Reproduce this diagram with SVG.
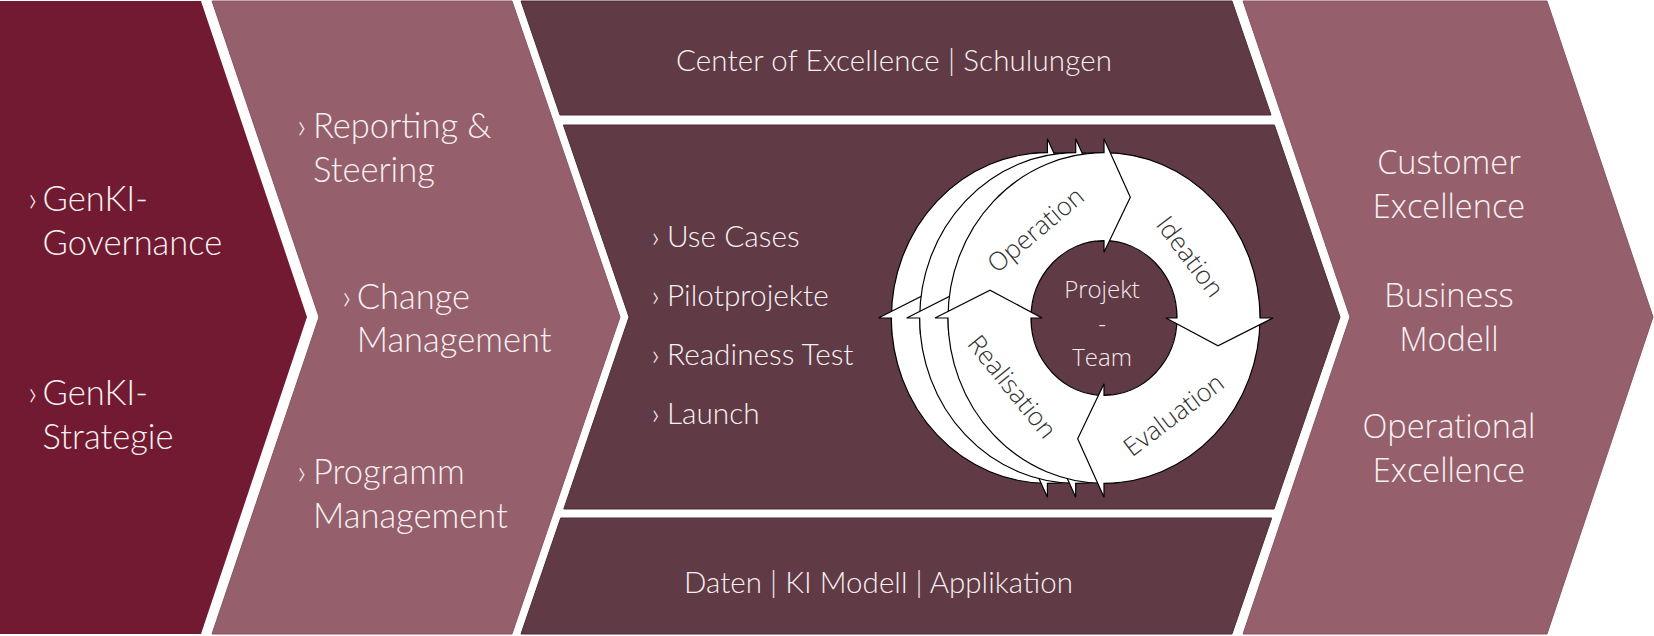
<svg xmlns="http://www.w3.org/2000/svg" xmlns:xlink="http://www.w3.org/1999/xlink" width="1654" height="636" viewBox="0 0 1654 636">
<style>
.c1{fill:#711a31}
.c2{fill:#955f6c;stroke:#8a5360;stroke-width:1}
.band{fill:#603a45;stroke:#4e2c36;stroke-width:1}
.tl{font-family:Lato,"Liberation Sans",sans-serif;font-weight:300;fill:#f7f1f2}
.tr{font-family:"Open Sans","Liberation Sans",sans-serif;font-weight:300;fill:#f7f1f2;font-size:32.5px;text-anchor:middle}
.ring{fill:#ffffff;stroke:#000000;stroke-width:1.2;fill-rule:evenodd}
.rt{font-family:"Open Sans","Liberation Sans",sans-serif;font-weight:300;fill:#333333;font-size:25.5px;text-anchor:middle;dominant-baseline:central}
.hub{font-family:"Open Sans","Liberation Sans",sans-serif;font-weight:300;fill:#f3eaec;font-size:24px;text-anchor:middle}
</style>
<defs>
<path id="ah" d="M -16.31 -155.15 A 156 156 0 0 1 0 -156 L 0 -169 L 26.32 -114 L 0 -62 L 0 -73 A 73 73 0 0 0 -7.63 -72.6" fill="#ffffff" stroke="#000000" stroke-width="1.2" vector-effect="non-scaling-stroke" stroke-linejoin="miter"/>
<g id="cyc">
<path class="ring" vector-effect="non-scaling-stroke" d="M 0 -156 A 156 156 0 1 1 0 156 A 156 156 0 1 1 0 -156 Z M 0 -73 A 73 73 0 1 0 0 73 A 73 73 0 1 0 0 -73 Z"/>
<use xlink:href="#ah"/>
<use xlink:href="#ah" transform="rotate(90)"/>
<use xlink:href="#ah" transform="rotate(180)"/>
<use xlink:href="#ah" transform="rotate(270)"/>
</g>
</defs>
<rect width="1654" height="636" fill="#ffffff"/>

<g id="chevron-governance">
<polygon class="c1" points="0,1 201,1 307,317 201,634 0,634"/>
<text class="tl" font-size="34.5"><tspan x="28" y="210.5">›</tspan><tspan x="42.6" y="210.5">GenKI-</tspan></text>
<text class="tl" font-size="34.5" x="42.6" y="255">Governance</text>
<text class="tl" font-size="34.5"><tspan x="28" y="405">›</tspan><tspan x="42.6" y="405">GenKI-</tspan></text>
<text class="tl" font-size="34.5" x="42.6" y="449">Strategie</text>
</g>

<g id="chevron-management">
<polygon class="c2" points="212,1 512,1 620,317 512,634 212,634 319,317"/>
<text class="tl" font-size="34.5"><tspan x="297" y="137.6">›</tspan><tspan x="313" y="137.6">Reporting &amp;</tspan></text>
<text class="tl" font-size="34.5" x="313" y="182">Steering</text>
<text class="tl" font-size="34.5"><tspan x="342" y="309">›</tspan><tspan x="356.7" y="309">Change</tspan></text>
<text class="tl" font-size="34.5" x="356.7" y="352">Management</text>
<text class="tl" font-size="34.5"><tspan x="297" y="484">›</tspan><tspan x="313" y="484">Programm</tspan></text>
<text class="tl" font-size="34.5" x="313" y="528">Management</text>
</g>

<g id="band-coe">
<polygon class="band" points="521,1 1232,1 1271,115 560,115"/>
<text class="tl" font-size="29.5" x="676" y="71" textLength="436" lengthAdjust="spacing">Center of Excellence | Schulungen</text>
</g>

<g id="band-pilot">
<polygon class="band" points="563.4,125 1274.4,125 1340,317 1274,509 563.8,509 629,317"/>
<text class="tl" font-size="29.8"><tspan x="651.5" y="247">›</tspan><tspan x="667" y="247">Use Cases</tspan></text>
<text class="tl" font-size="29.8"><tspan x="651.5" y="306">›</tspan><tspan x="667" y="306">Pilotprojekte</tspan></text>
<text class="tl" font-size="29.8"><tspan x="651.5" y="365">›</tspan><tspan x="667" y="365">Readiness Test</tspan></text>
<text class="tl" font-size="29.8"><tspan x="651.5" y="424">›</tspan><tspan x="667" y="424">Launch</tspan></text>
</g>

<g id="cycle">
<g transform="translate(1104 318) scale(1 1.06)">
<use xlink:href="#cyc" transform="translate(-56.6 0)"/>
<use xlink:href="#cyc" transform="translate(-28.3 0)"/>
<circle r="73" fill="#603a45"/>
<use xlink:href="#cyc"/>
</g>
<text class="rt" transform="translate(1035 229) rotate(-40)">Operation</text>
<text class="rt" transform="translate(1191 256) rotate(53)">Ideation</text>
<text class="rt" transform="translate(1173 414) rotate(-37)">Evaluation</text>
<text class="rt" transform="translate(1013 386) rotate(51)">Realisation</text>
<text class="hub" x="1102" y="298">Projekt</text>
<text class="hub" x="1102" y="332">-</text>
<text class="hub" x="1102" y="366">Team</text>
</g>

<g id="band-data">
<polygon class="band" points="560.7,518 1271.7,518 1232,634 521,634"/>
<text class="tl" font-size="29.5" x="684" y="593" textLength="389" lengthAdjust="spacing">Daten | KI Modell | Applikation</text>
</g>

<g id="chevron-results">
<polygon class="c2" points="1243,1 1547,1 1653,317 1547,634 1243,634 1350,317"/>
<text class="tr" x="1449" y="173.5">Customer</text>
<text class="tr" x="1449" y="218">Excellence</text>
<text class="tr" x="1449" y="306.7">Business</text>
<text class="tr" x="1449" y="351">Modell</text>
<text class="tr" x="1449" y="438">Operational</text>
<text class="tr" x="1449" y="482">Excellence</text>
</g>
</svg>
